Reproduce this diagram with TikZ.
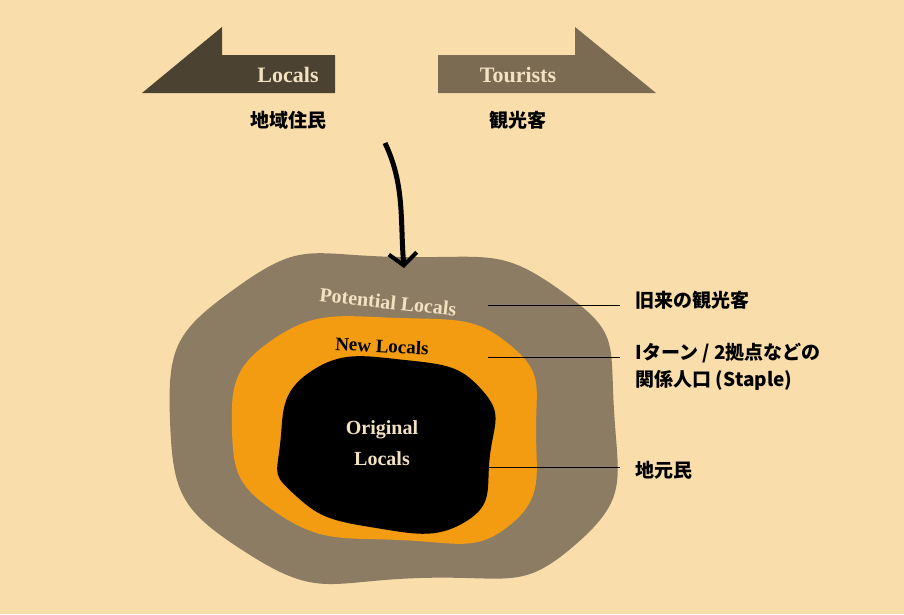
\documentclass[tikz,border=0pt]{standalone}
\usepackage{fontspec}
\setmainfont{Liberation Serif}
\newfontfamily\jp{Noto Sans CJK JP}
\usetikzlibrary{arrows.meta}
\definecolor{bg}{HTML}{F9DEAC}
\definecolor{darkb}{HTML}{4C4232}
\definecolor{midb}{HTML}{7B6B53}
\definecolor{outer}{HTML}{8C7C63}
\definecolor{org}{HTML}{F39C12}
\definecolor{lt}{HTML}{F3E2C2}
\tikzset{jlab/.style={font=\jp\bfseries\fontsize{19}{27}\selectfont,anchor=west,text=black},
lead/.style={line width=1pt,black},
ttl/.style={font=\bfseries\fontsize{22}{26}\selectfont}}
\begin{document}
\begin{tikzpicture}[x=1pt,y=-1pt]
\fill[bg] (0,0) rectangle (904,614);
\useasboundingbox (0,0) rectangle (904,614);
\fill[darkb] (142,93) -- (222,27) -- (222,55) -- (335,55) -- (335,93) -- cycle;
\fill[midb] (438,55) -- (575,55) -- (575,27) -- (656,93) -- (438,93) -- cycle;
\node[ttl,text=lt] (loc) at (288,75) {Locals};
\node[ttl,text=lt] (tou) at (518,75) {Tourists};
\node[font=\jp\bfseries\fontsize{19}{22}\selectfont] (jl) at (288,120) {地域住民};
\node[font=\jp\bfseries\fontsize{19}{22}\selectfont] (jt) at (518,120) {観光客};
\fill[outer] plot[smooth cycle,tension=1] coordinates {(170,420) (240,285) (400,257) (560,290) (614,410) (575,545) (420,578) (250,555)};
\fill[org] plot[smooth cycle,tension=0.9] coordinates {(232,430) (275,338) (400,318) (510,345) (536,430) (510,525) (400,540) (280,515)};
\fill[black] plot[smooth cycle,tension=0.9] coordinates {(280,445) (310,372) (405,360) (482,390) (490,455) (465,522) (370,527) (295,495)};
\node[ttl,text=lt,font=\bfseries\fontsize{20}{22}\selectfont,rotate=-6] (pot) at (388,302) {Potential Locals};
\node[ttl,text=black,font=\bfseries\fontsize{19}{22}\selectfont,rotate=-3] (new) at (382,346) {New Locals};
\node[text=lt,font=\bfseries\fontsize{20}{31}\selectfont,align=center] (ori) at (382,443) {Original\\Locals};
\coordinate (a1) at (385,143);
\coordinate (a2) at (404,268);
\draw[line width=5pt,black,-{Straight Barb[length=12pt,width=28pt,line width=4pt]}] (a1) .. controls (405,185) and (400,220) .. (a2);
\node[jlab] (l1) at (632,300) {旧来の観光客};
\node[jlab,align=left] (l2) at (632,367) {Iターン / 2拠点などの\\関係人口 (Staple)};
\node[jlab] (l3) at (632,470) {地元民};
\coordinate (p1) at (488,305); \coordinate (p2) at (488,357); \coordinate (p3) at (488,467);
\draw[lead] (p1) -- (620,305);
\draw[lead] (p2) -- (620,357);
\draw[lead] (p3) -- (620,467);
\end{tikzpicture}
\end{document}
